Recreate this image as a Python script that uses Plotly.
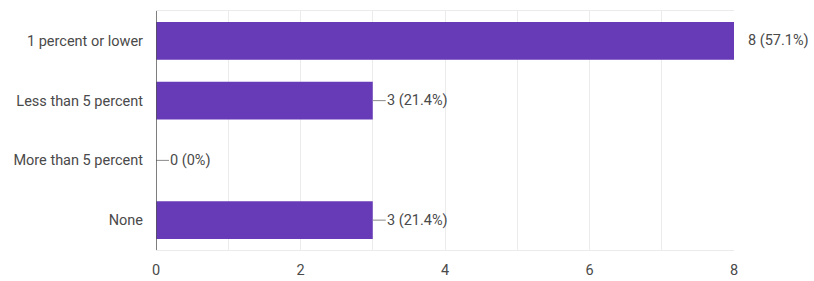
import plotly.graph_objects as go

categories = ["1 percent or lower", "Less than 5 percent", "More than 5 percent", "None"]
counts = [8, 3, 0, 3]
percents = ["57.1%", "21.4%", "0%", "21.4%"]
x_ticks = [0, 2, 4, 6, 8]

bar_color = "#673ab7"
text_color = "#4a4a4a"
font_family = "Roboto, Arial, sans-serif"

fig = go.Figure()
fig.add_trace(go.Bar(
    x=counts, y=categories, orientation="h",
    marker=dict(color=bar_color, line=dict(width=0)),
    width=0.63, hoverinfo="skip",
))

for c, n, p in zip(categories, counts, percents):
    fig.add_shape(type="line", xref="x", yref="y", xsizemode="pixel",
                  xanchor=n, x0=0, x1=13, y0=c, y1=c,
                  line=dict(color="#8a8a8a", width=1))
    fig.add_annotation(x=n, y=c, xref="x", yref="y", text=f"{n} ({p})",
                       showarrow=False, xanchor="left", xshift=12,
                       font=dict(family=font_family, size=14.5, color=text_color))

fig.update_layout(
    width=814, height=281,
    margin=dict(l=156, r=80, t=11, b=31),
    plot_bgcolor="white", paper_bgcolor="white",
    showlegend=False,
    font=dict(family=font_family, size=14.5, color=text_color),
    xaxis=dict(range=[0, 8], tickvals=x_ticks, ticktext=[str(v) for v in x_ticks],
               showgrid=True, gridcolor="#ebebeb", gridwidth=1,
               minor=dict(dtick=1, showgrid=True, gridcolor="#ebebeb"),
               dtick=2, zeroline=False, showline=True, mirror=True,
               linecolor="#ebebeb", ticks="", ticklen=0, ticklabelstandoff=7,
               automargin=False, tickfont=dict(size=14.5)),
    yaxis=dict(autorange="reversed", categoryorder="array", categoryarray=categories,
               showgrid=False, zeroline=False, ticks="", ticklabelstandoff=12,
               automargin=False, tickfont=dict(size=14.5)),
)
fig.add_shape(type="line", xref="x", yref="paper", x0=0, x1=0, y0=0, y1=1,
              line=dict(color="#555555", width=1.5))

fig.write_html("out.html")
